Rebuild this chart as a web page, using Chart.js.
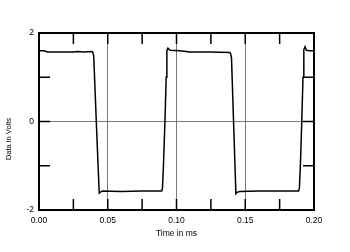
<!DOCTYPE html>
<html>
<head>
<meta charset="utf-8">
<script src="https://cdn.jsdelivr.net/npm/chart.js@4"></script>
<style>
  html, body { margin: 0; padding: 0; background: #fff; }
  #wrap { width: 350px; height: 252px; position: relative; }
</style>
</head>
<body>
<div id="wrap"><canvas id="grafica"></canvas></div>
<script>
// Datos (tiempo en ms, tension en voltios)
var tiempoMs = [
  0.000, 0.004, 0.006, 0.025, 0.028, 0.032, 0.0385, 0.0392, 0.0398, 0.0418, 0.0438,
  0.0445, 0.0460, 0.060, 0.075, 0.0893, 0.0898, 0.0905, 0.0916, 0.0925, 0.0930,
  0.0938, 0.0952, 0.1025, 0.1097, 0.125, 0.1388, 0.1394, 0.1400, 0.1416, 0.1432,
  0.1440, 0.1460, 0.160, 0.175, 0.1888, 0.1894, 0.1902, 0.1911, 0.1920, 0.1926,
  0.1935, 0.1945, 0.1970, 0.2000
];
var voltios = [
  1.60, 1.60, 1.57, 1.57, 1.58, 1.57, 1.58, 1.56, 1.48, -0.1, -1.62,
  -1.60, -1.57, -1.58, -1.57, -1.57, -1.50, -1.0, 0.0, 1.0, 1.60,
  1.66, 1.61, 1.60, 1.57, 1.57, 1.56, 1.53, 1.44, -0.1, -1.63,
  -1.60, -1.58, -1.57, -1.57, -1.57, -1.50, -0.9, 0.0, 1.0, 1.62,
  1.69, 1.61, 1.60, 1.60
];

// Ticks de los ejes
var ticksX = [0.00, 0.05, 0.10, 0.15, 0.20];
var ticksY = [-2, 0, 2];

var fuente = "'Liberation Sans', Arial, Helvetica, sans-serif";

function esMayor(valor, lista) {
  return lista.some(function (v) { return Math.abs(v - valor) < 1e-6; });
}

// Marco, marcas interiores y titulo del eje Y
var marcoPlugin = {
  id: "marco",
  afterDraw: function (chart) {
    var ctx = chart.ctx;
    var a = chart.chartArea;
    var sx = chart.scales.x;
    var sy = chart.scales.y;
    var largo = 11;
    ctx.save();
    ctx.strokeStyle = "#000";
    ctx.lineWidth = 1.5;
    ctx.beginPath();
    for (var t = 0.025; t < 0.2; t += 0.025) {
      var px = sx.getPixelForValue(t);
      ctx.moveTo(px, a.top);
      ctx.lineTo(px, a.top + largo);
      ctx.moveTo(px, a.bottom);
      ctx.lineTo(px, a.bottom - largo);
    }
    for (var v = -1; v <= 1; v++) {
      var py = sy.getPixelForValue(v);
      ctx.moveTo(a.left, py);
      ctx.lineTo(a.left + largo, py);
      ctx.moveTo(a.right, py);
      ctx.lineTo(a.right - largo, py);
    }
    ctx.stroke();
    ctx.lineWidth = 2;
    ctx.strokeRect(a.left, a.top, a.right - a.left, a.bottom - a.top);

    ctx.translate(9, 139);
    ctx.rotate(-Math.PI / 2);
    ctx.fillStyle = "#000";
    ctx.font = "7.5px " + fuente;
    ctx.textAlign = "center";
    ctx.textBaseline = "middle";
    ctx.fillText("Data in Volts", 0, 0);
    ctx.restore();
  },
};

var ctx = document.getElementById("grafica").getContext("2d");
var grafica = new Chart(ctx, {
  type: "line",
  data: {
    labels: tiempoMs,
    datasets: [
      {
        label: "Data",
        data: tiempoMs.map(function (t, i) { return { x: t, y: voltios[i] }; }),
        borderColor: "#000",
        borderWidth: 1.5,
        pointRadius: 0,
        tension: 0,
        fill: false,
      },
    ],
  },
  options: {
    responsive: true,
    maintainAspectRatio: false,
    animation: false,
    layout: {
      padding: { left: 0, right: 36, top: 33, bottom: 0 },
    },
    scales: {
      x: {
        type: "linear",
        min: 0,
        max: 0.2,
        afterFit: function (scale) { scale.height = 42; },
        border: { display: false },
        grid: {
          drawTicks: false,
          lineWidth: 1,
          color: function (c) {
            var v = c.tick ? c.tick.value : 0;
            if (v > 0.001 && v < 0.199 && esMayor(v, ticksX)) return "#7a7a7a";
            return "rgba(0,0,0,0)";
          },
        },
        ticks: {
          stepSize: 0.025,
          autoSkip: false,
          maxRotation: 0,
          padding: 6,
          color: "#000",
          font: { family: fuente, size: 8.5 },
          callback: function (value) {
            return esMayor(value, ticksX) ? value.toFixed(2) : "";
          },
        },
        title: {
          display: true,
          text: "Time in ms",
          color: "#000",
          font: { family: fuente, size: 8.5 },
          padding: { top: 0, bottom: 13 },
        },
      },
      y: {
        min: -2,
        max: 2,
        afterFit: function (scale) { scale.width = 39; },
        border: { display: false },
        grid: {
          drawTicks: false,
          lineWidth: 1,
          color: function (c) {
            var v = c.tick ? c.tick.value : 0;
            return v === 0 ? "#7a7a7a" : "rgba(0,0,0,0)";
          },
        },
        ticks: {
          stepSize: 1,
          padding: 5,
          color: "#000",
          font: { family: fuente, size: 8.5 },
          callback: function (value) {
            return ticksY.indexOf(value) >= 0 ? String(value) : "";
          },
        },
      },
    },
    plugins: {
      legend: { display: false },
      tooltip: { enabled: false },
    },
  },
  plugins: [marcoPlugin],
});
</script>
</body>
</html>
